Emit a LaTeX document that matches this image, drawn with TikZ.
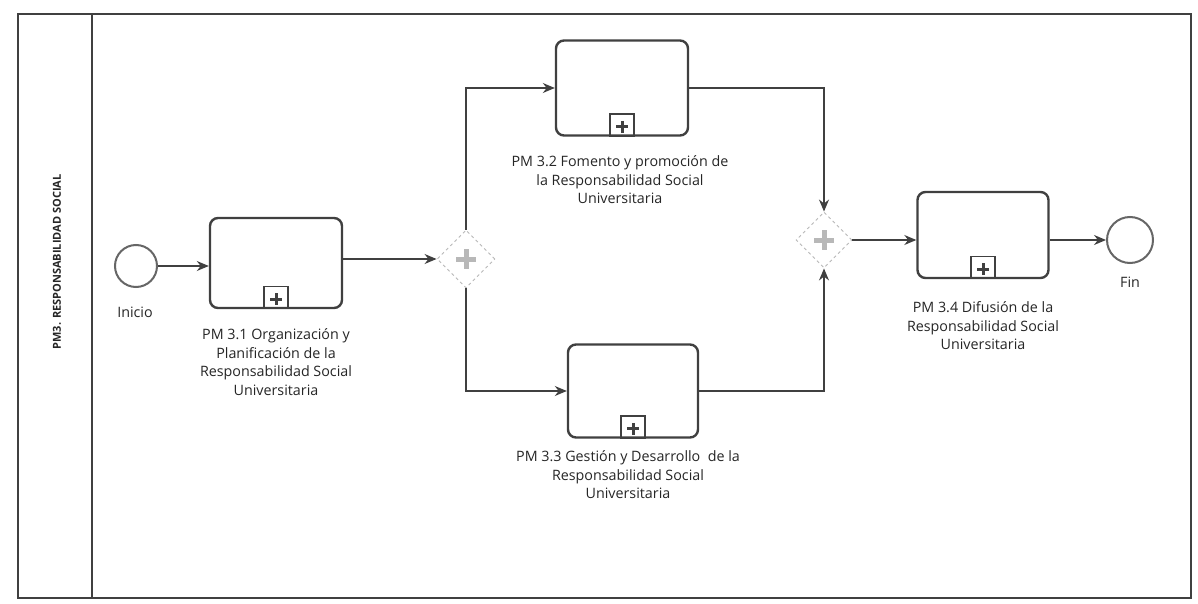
\documentclass[tikz,border=0pt]{standalone}
\usepackage{fontspec}
\setmainfont{Open Sans}
\usetikzlibrary{shapes.geometric,arrows.meta,positioning}
\definecolor{ln}{gray}{0.25}
\definecolor{gw}{gray}{0.72}
\tikzset{
  x=1pt,y=-1pt,
  task/.style={draw=ln,line width=2.4pt,rounded corners=8pt,minimum width=#1,inner sep=0pt},
  ev/.style={draw=ln!80,line width=2pt,circle,minimum size=#1,inner sep=0pt},
  gate/.style={draw=gw,dashed,line width=0.9pt,diamond,minimum size=58pt,inner sep=0pt},
  flow/.style={draw=ln,line width=1.2pt,-{Stealth[length=12pt,width=10pt]}},
  lbl/.style={align=center,font=\fontsize{14.3}{18.5}\selectfont,text=black!85},
  mk/.style={draw=ln,line width=1.6pt,minimum width=24pt,minimum height=22pt,inner sep=0pt}
}
\newcommand{\submarker}[1]{%
  \node[mk,anchor=south] (#1m) at (#1.south) {};
  \draw[ln,line width=3pt] ([yshift=-2pt]#1m.center) ++(-6,0) -- ++(12,0);
  \draw[ln,line width=3pt] ([yshift=-2pt]#1m.center) ++(0,-6) -- ++(0,12);
}
\newcommand{\gplus}[1]{%
  \draw[gw,line width=5pt] (#1.center) ++(-10,0) -- ++(20,0);
  \draw[gw,line width=5pt] (#1.center) ++(0,-10) -- ++(0,20);
}
\begin{document}
\begin{tikzpicture}
\useasboundingbox (0,0) rectangle (1198,604);
\fill[white] (0,0) rectangle (1198,604);
% pool frame
\draw[ln,line width=1.3pt] (18,14) rectangle (1191,598);
\draw[ln,line width=1.3pt] (92,14) -- (92,598);
\node[rotate=90,font=\bfseries\fontsize{11}{13}\selectfont,text=black!85] (lane) at (57,262) {PM3. RESPONSABILIDAD SOCIAL};

% events
\node[ev=42pt] (start) at (136,266) {};
\node[ev=46pt] (end) at (1130,240) {};
\node[lbl] (linicio) at (135,312) {Inicio};
\node[lbl] (lfin) at (1130,282) {Fin};

% tasks
\node[task=132pt,minimum height=90pt] (t1) at (276,263) {};
\node[task=132pt,minimum height=95pt] (t2) at (622,88) {};
\node[task=130pt,minimum height=93pt] (t3) at (633,391) {};
\node[task=131pt,minimum height=86pt] (t4) at (983,235) {};
\submarker{t1}
\submarker{t2}
\submarker{t3}
\submarker{t4}

% gateways
\node[gate] (g1) at (466,259) {};
\node[gate,minimum size=56pt] (g2) at (824,240) {};
\gplus{g1}
\gplus{g2}

% labels
\node[lbl] (l1) at (276,362) {PM 3.1 Organización y\\Planificación de la\\Responsabilidad Social\\Universitaria};
\node[lbl] (l2) at (620,180) {PM 3.2 Fomento y promoción de\\la Responsabilidad Social\\Universitaria};
\node[lbl] (l3) at (628,475) {PM 3.3 Gestión y Desarrollo\ \ de la\\Responsabilidad Social\\Universitaria};
\node[lbl] (l4) at (983,326) {PM 3.4 Difusión de la\\Responsabilidad Social\\Universitaria};

% flows
\draw[flow] (start) -- (t1.west |- start);
\draw[flow] (t1.east |- g1) -- (g1.west);
\draw[flow] (g1.north) |- (t2.west);
\draw[flow] (g1.south) |- (t3.west);
\draw[flow] (t2.east) -| (g2.north);
\draw[flow] (t3.east) -| (g2.south);
\draw[flow] (g2.east) -- (t4.west |- g2);
\draw[flow] (t4.east |- end) -- (end.west);
\end{tikzpicture}
\end{document}
